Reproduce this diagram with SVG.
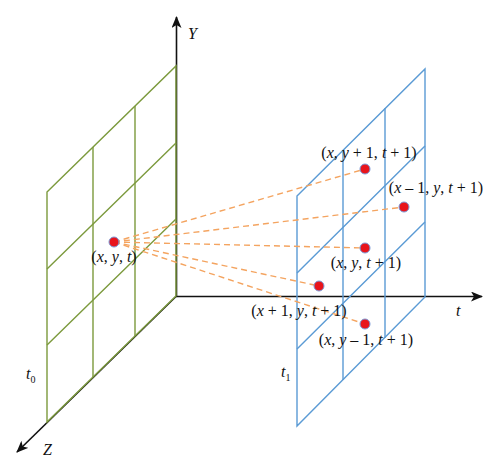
<svg xmlns="http://www.w3.org/2000/svg" width="500" height="473" viewBox="0 0 500 473">
<defs>
<marker id="arr" viewBox="0 0 12 10" refX="11" refY="5" markerWidth="12" markerHeight="10" markerUnits="userSpaceOnUse" orient="auto">
<path d="M0,0 L12,5 L0,10 L3,5 Z" fill="#111"/>
</marker>
<style>
.axis{stroke:#111;stroke-width:1.6;fill:none}
.g{stroke:#7c9a3d;stroke-width:1.4;fill:none}
.b{stroke:#5b9bd5;stroke-width:1.4;fill:none}
.d{stroke:#f4a460;stroke-width:1.4;stroke-dasharray:6,4;fill:none}
.pt{fill:#e8141b;stroke:#7a9ad8;stroke-width:1}
text{font-family:"Liberation Serif","Times New Roman",serif;font-size:16px;fill:#111}
.lbl{text-anchor:middle}
</style>
</defs>
<rect width="500" height="473" fill="#fff"/>
<g id="axes">
<line class="axis" x1="176.5" y1="296" x2="176.5" y2="17" marker-end="url(#arr)"/>
<line class="axis" x1="176" y1="296.5" x2="482" y2="296.5" marker-end="url(#arr)"/>
<line class="axis" x1="176.5" y1="296" x2="17" y2="452" marker-end="url(#arr)"/>
<text x="188" y="39" font-style="italic">Y</text>
<text x="456" y="316" font-style="italic">t</text>
<text x="43" y="455" font-style="italic">Z</text>
</g>
<g id="plane-t0">
<path class="g" d="M47,192 L176,66 L176,296 L47,422 Z"/>
<path class="g" d="M47,269 L176,143 M47,345 L176,219"/>
<path class="g" d="M93,147 L93,377 M135,106 L135,336"/>
<text x="26" y="379" font-style="italic">t<tspan font-style="normal" font-size="10px" dy="4">0</tspan></text>
</g>
<g id="plane-t1">
<path class="b" d="M297,196 L425,69 L425,297 L297,426 Z"/>
<path class="b" d="M297,273 L425,146 M297,349 L425,222"/>
<path class="b" d="M343,150 L343,380 M385,108 L385,338"/>
<text x="281" y="377" font-style="italic">t<tspan font-style="normal" font-size="10px" dy="4">1</tspan></text>
</g>
<g id="connectors">
<line class="d" x1="114" y1="242" x2="365" y2="169"/>
<line class="d" x1="114" y1="242" x2="404" y2="207"/>
<line class="d" x1="114" y1="242" x2="365" y2="248"/>
<line class="d" x1="114" y1="242" x2="319" y2="286"/>
<line class="d" x1="114" y1="242" x2="365" y2="324"/>
</g>
<g id="p-xyt">
<circle class="pt" cx="114" cy="242" r="5"/>
<text class="lbl" x="114" y="262">(<tspan font-style="italic">x</tspan>, <tspan font-style="italic">y</tspan>, <tspan font-style="italic">t</tspan>)</text>
</g>
<g id="p-y1">
<circle class="pt" cx="365" cy="169" r="5"/>
<text class="lbl" x="369" y="158">(<tspan font-style="italic">x</tspan>, <tspan font-style="italic">y</tspan> + 1, <tspan font-style="italic">t</tspan> + 1)</text>
</g>
<g id="p-xm1">
<circle class="pt" cx="404" cy="207" r="5"/>
<text class="lbl" x="436" y="193">(<tspan font-style="italic">x</tspan> – 1, <tspan font-style="italic">y</tspan>, <tspan font-style="italic">t</tspan> + 1)</text>
</g>
<g id="p-t1">
<circle class="pt" cx="365" cy="248" r="5"/>
<text class="lbl" x="366" y="268">(<tspan font-style="italic">x</tspan>, <tspan font-style="italic">y</tspan>, <tspan font-style="italic">t</tspan> + 1)</text>
</g>
<g id="p-xp1">
<circle class="pt" cx="319" cy="286" r="5"/>
<text class="lbl" x="299" y="316">(<tspan font-style="italic">x</tspan> + 1, <tspan font-style="italic">y</tspan>, <tspan font-style="italic">t</tspan> + 1)</text>
</g>
<g id="p-ym1">
<circle class="pt" cx="365" cy="324" r="5"/>
<text class="lbl" x="366" y="345">(<tspan font-style="italic">x</tspan>, <tspan font-style="italic">y</tspan> – 1, <tspan font-style="italic">t</tspan> + 1)</text>
</g>
</svg>
